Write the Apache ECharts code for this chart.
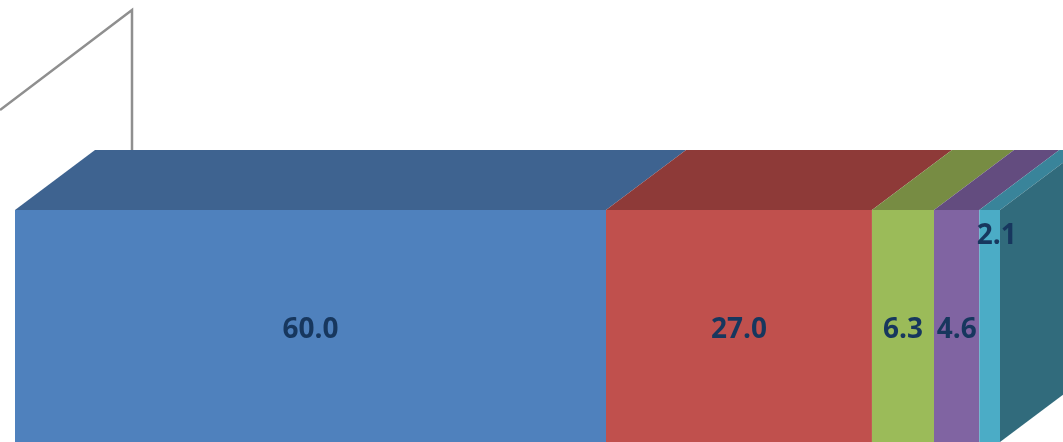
<!DOCTYPE html>
<html>
<head>
<meta charset="utf-8">
<style>html,body{margin:0;padding:0;background:#fff}#c{width:1063px;height:442px}</style>
<script src="https://cdn.jsdelivr.net/npm/echarts@6/dist/echarts.min.js"></script>
</head>
<body>
<div id="c"></div>
<script>
var values = [60.0, 27.0, 6.3, 4.6, 2.1];
var frontColors = ['#4f81bd', '#c0504d', '#9bbb59', '#8064a2', '#4bacc6'];
var topColors = ['#3e6390', '#8e3a38', '#778c43', '#634c7f', '#39849a'];
var sideColor = '#316b7c';
var labelOffsets = [[0, 0], [0, 0], [0, 0], [0, 0], [7, -94]];
var depthX = 80, depthY = 60;

var rows = [], running = 0;
values.forEach(function (v, i) { rows.push([running, running + v, v, i]); running += v; });
var total = running;

function renderSegment(params, api) {
  var i = api.value(3);
  var a = api.coord([api.value(0), 1]);
  var b = api.coord([api.value(1), 0]);
  var x0 = a[0], x1 = b[0], yT = a[1], yB = b[1];
  var kids = [{
    type: 'polygon', z2: 1, silent: true,
    shape: { points: [[x0, yT], [x0 + depthX, yT - depthY], [x1 + depthX, yT - depthY], [x1, yT]] },
    style: { fill: topColors[i] }
  }, {
    type: 'rect', z2: 2, silent: true,
    shape: { x: x0, y: yT, width: x1 - x0, height: yB - yT },
    style: { fill: frontColors[i] }
  }];
  if (i === values.length - 1) {
    kids.push({
      type: 'polygon', z2: 1, silent: true,
      shape: { points: [[x1, yT], [x1 + depthX, yT - depthY], [x1 + depthX, yB - depthY], [x1, yB]] },
      style: { fill: sideColor }
    });
  }
  kids.push({
    type: 'text', z2: 5, silent: true,
    style: {
      x: (x0 + x1) / 2 + labelOffsets[i][0],
      y: (yT + yB) / 2 + labelOffsets[i][1] + 4,
      text: api.value(2).toFixed(1),
      align: 'center', verticalAlign: 'middle',
      fill: '#17375e',
      font: 'bold 28px "Open Sans", "Noto Sans", sans-serif'
    }
  });
  return { type: 'group', children: kids };
}

var chart = echarts.init(document.getElementById('c'), null, { renderer: 'canvas' });
chart.setOption({
  animation: false,
  backgroundColor: '#ffffff',
  grid: { left: 15, top: 210, width: 985, height: 234 },
  xAxis: { type: 'value', min: 0, max: total, show: false },
  yAxis: { type: 'value', min: 0, max: 1, show: false },
  graphic: [{
    type: 'polyline', z: 0, silent: true,
    shape: { points: [[0, 110], [132, 10], [132, 151]] },
    style: { stroke: '#8f8f8f', lineWidth: 2.5, fill: null }
  }],
  series: [{
    type: 'custom',
    clip: false,
    renderItem: renderSegment,
    data: rows,
    encode: { x: [0, 1], y: [] },
    z: 2
  }]
});
</script>
</body>
</html>
